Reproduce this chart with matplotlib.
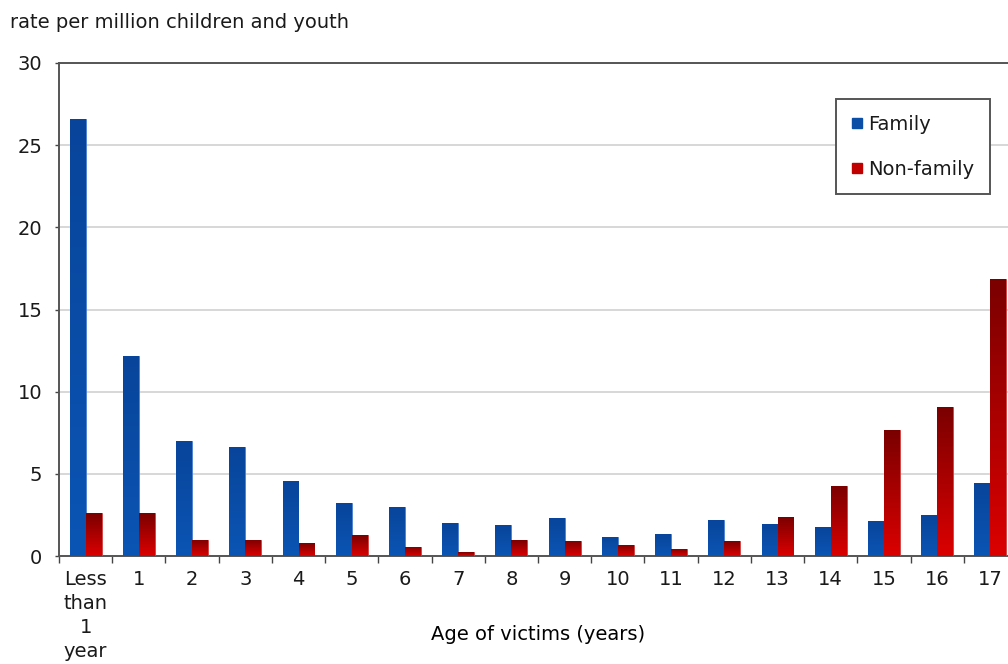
import matplotlib
matplotlib.use("Agg")
import matplotlib.pyplot as plt
from matplotlib.colors import LinearSegmentedColormap
from matplotlib.lines import Line2D
import numpy as np

# data
ages = ["Less\nthan\n1\nyear", "1", "2", "3", "4", "5", "6", "7", "8", "9",
        "10", "11", "12", "13", "14", "15", "16", "17"]
family = [26.6, 12.2, 7.0, 6.65, 4.57, 3.25, 2.99, 2.0, 1.87, 2.34,
          1.16, 1.32, 2.2, 1.97, 1.77, 2.13, 2.52, 4.45]
non_family = [2.6, 2.6, 1.0, 1.0, 0.77, 1.26, 0.57, 0.24, 0.96, 0.94,
              0.67, 0.45, 0.9, 2.38, 4.29, 7.66, 9.07, 16.87]

BLUE = "#0b4ea8"
RED = "#c00000"
FS = 14

plt.rcParams['font.family'] = ['DejaVu Sans']
plt.rcParams['text.color'] = '#1a1a1a'
plt.rcParams['xtick.color'] = '#1a1a1a'
plt.rcParams['ytick.color'] = '#1a1a1a'

fig = plt.figure(figsize=(10.08, 6.64), dpi=100)
# axes run past the right edge, as in the cropped original
ax = fig.add_axes([59/1008, 1-556/664, 958/1008, 493/664])

x = np.arange(len(ages))
w = 0.3
b1 = ax.bar(x - w/2, family, w, color=BLUE, edgecolor="#4a7fd0", lw=0.6, zorder=3)
b2 = ax.bar(x + w/2, non_family, w, color=RED, edgecolor="#d04040", lw=0.6, zorder=3)

grad = np.linspace(0, 1, 256).reshape(-1, 1)
cm_blue = LinearSegmentedColormap.from_list("b", ["#0b55b4", "#08449a"])
cm_red = LinearSegmentedColormap.from_list("r", ["#dc0000", "#7a0000"])


def shade(bars, cmap):
    for r in bars:
        x0, h, bw = r.get_x(), r.get_height(), r.get_width()
        im = ax.imshow(grad, extent=[x0, x0 + bw, 0, h], origin="lower",
                       aspect="auto", cmap=cmap, zorder=3.5)
        im.set_clip_path(r)


shade(b1, cm_blue)
shade(b2, cm_red)

ax.set_xlim(-0.5, len(ages) - 0.5)
ax.set_ylim(0, 30)
ax.set_yticks(range(0, 31, 5))
ax.yaxis.grid(True, color="#d4d4d4", lw=1.3, zorder=0)
ax.set_axisbelow(True)

ax.set_xticks(x)
ax.set_xticklabels(ages, fontsize=FS, linespacing=1.33, va="top")
ax.set_xticks(np.arange(-0.5, len(ages), 1), minor=True)
ax.tick_params(axis="x", which="major", length=0, pad=10)
ax.tick_params(axis="x", which="minor", length=5, width=1, color="#444444")
ax.tick_params(axis="y", length=3, width=1, color="#444444", labelsize=FS, pad=9)

for s in ax.spines.values():
    s.set_color("#555555")
    s.set_linewidth(1.4)

ax.set_xlabel("Age of victims (years)", fontsize=FS, va="center")
ax.xaxis.set_label_coords(0.5, (556 - 635) / 493)

fig.text(10/1008, 1-22/664, "rate per million children and youth",
         fontsize=FS, va="center", ha="left")

handles = [Line2D([], [], marker="s", ls="", color=BLUE, markersize=7.5),
           Line2D([], [], marker="s", ls="", color=RED, markersize=7.5)]
leg = ax.legend(handles, ["Family", "Non-family"], loc="upper left",
                bbox_to_anchor=(836/1008, 1-99/664), bbox_transform=fig.transFigure,
                fontsize=FS, fancybox=False, framealpha=1, edgecolor="#555555",
                handletextpad=0.25, handlelength=0.6, labelspacing=1.35,
                borderpad=0.8, borderaxespad=0)
leg.get_frame().set_linewidth(1.4)

fig.savefig("out.png", dpi=100)
